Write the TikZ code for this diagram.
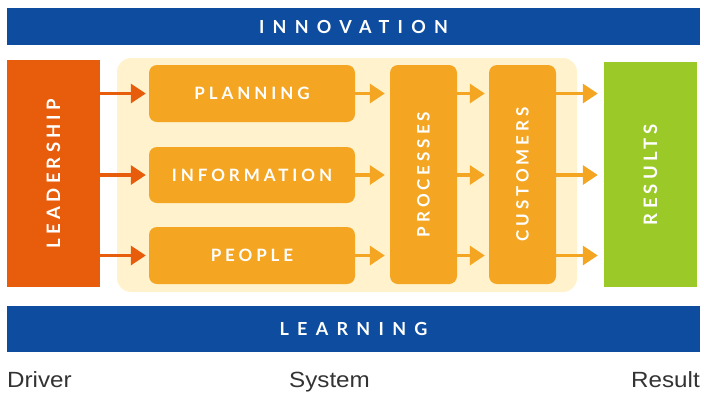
\documentclass[tikz,border=0pt]{standalone}
\usepackage{fontspec}
\setmainfont{Liberation Sans}
\newfontfamily\capfont{Liberation Sans}[FakeStretch=1.1]
\newfontfamily\barfont{Lato}[LetterSpace=46]
\newfontfamily\boxfont{Lato}[LetterSpace=23]
\usetikzlibrary{arrows.meta}
\definecolor{barblue}{HTML}{0D4C9E}
\definecolor{leadorange}{HTML}{E85D0C}
\definecolor{boxorange}{HTML}{F4A623}
\definecolor{paleyellow}{HTML}{FFF2CC}
\definecolor{resgreen}{HTML}{9BC927}
\definecolor{captiongray}{HTML}{333333}
\begin{document}
\begin{tikzpicture}[x=1pt,y=-1pt,
  bar/.style={fill=barblue, draw=none, minimum width=693pt, inner sep=0pt,
    text=white, font=\barfont\bfseries\fontsize{18}{21}\selectfont},
  stepbox/.style={fill=boxorange, draw=none, rounded corners=8pt, inner sep=0pt,
    text=white, font=\boxfont\bfseries\fontsize{17}{20}\selectfont},
  endbox/.style={draw=none, inner sep=0pt, text=white,
    font=\boxfont\bfseries\fontsize{18.5}{21}\selectfont},
  flow/.style={line width=3.3pt, -{Triangle[length=15pt,width=19pt]}},
  caption/.style={text=captiongray, font=\capfont\fontsize{22}{25}\selectfont, inner sep=0pt, anchor=base}]
\useasboundingbox (0,0) rectangle (704,392);

% top and bottom bands
\node[bar, minimum height=37pt] (innov) at (353.5,26.5) {INNOVATION};
\node[bar, minimum height=46pt] (learn) at (353.5,329) {LEARNING};

% system background
\node[fill=paleyellow, draw=none, rounded corners=14pt, minimum width=460pt,
  minimum height=234pt, inner sep=0pt] (sys) at (347,175) {};

% driver and result
\node[endbox, fill=leadorange, minimum width=93pt, minimum height=227pt] (lead) at (53.5,173.5)
  {\rotatebox{90}{LEADERSHIP}};
\node[endbox, fill=resgreen, minimum width=93pt, minimum height=225pt] (res) at (650.5,174.5)
  {\rotatebox{90}{RESULTS}};

% system steps
\node[stepbox, minimum width=206pt, minimum height=57pt] (plan) at (252,93.5) {PLANNING};
\node[stepbox, minimum width=206pt, minimum height=56pt] (info) at (252,175) {INFORMATION};
\node[stepbox, minimum width=206pt, minimum height=57pt] (people) at (252,255.5) {PEOPLE};
\node[stepbox, minimum width=67pt, minimum height=219pt] (proc) at (423.5,174.5)
  {\rotatebox{90}{PROCESSES}};
\node[stepbox, minimum width=67pt, minimum height=219pt] (cust) at (522.5,174.5)
  {\rotatebox{90}{CUSTOMERS}};

% leadership drives the three inputs
\foreach \n in {plan,info,people}
  \draw[flow, leadorange, shorten >=3pt] (lead.east |- \n) -- (\n.west);

% inputs feed processes, processes feed customers, customers give results
\foreach \n in {plan,info,people}{
  \draw[flow, boxorange, shorten >=5pt] (\n.east) -- (proc.west |- \n);
  \draw[flow, boxorange, shorten >=4pt] (proc.east |- \n) -- (cust.west |- \n);
  \draw[flow, boxorange, shorten >=6pt] (cust.east |- \n) -- (res.west |- \n);
}

% captions
\node[caption, anchor=base west] (driver) at (7,387) {Driver};
\node[caption] (system) at (329.5,387) {System};
\node[caption, anchor=base east] (result) at (700,387) {Result};
\end{tikzpicture}
\end{document}
